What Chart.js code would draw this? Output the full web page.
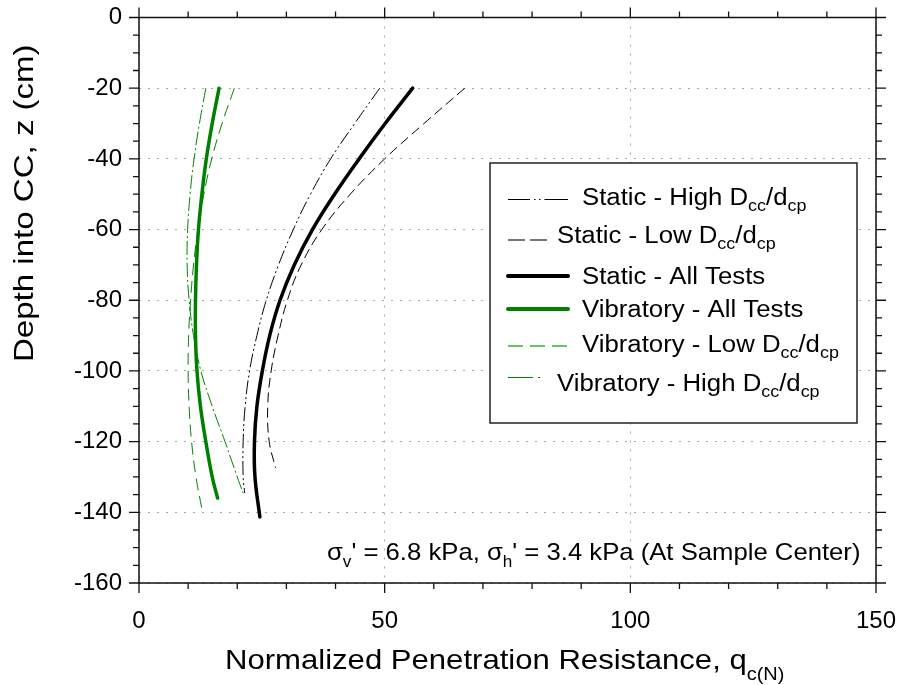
<!DOCTYPE html>
<html lang="en">
<head>
  <meta charset="UTF-8" />
  <title>Penetration Resistance vs Depth</title>
  <script src="https://cdn.jsdelivr.net/npm/chart.js"></script>
  <style>
    body {
      margin: 0;
      background: #fff;
    }
    #wrap {
      width: 901px;
      height: 685px;
    }
  </style>
</head>
<body>
  <div id="wrap"><canvas id="chart" width="901" height="685"></canvas></div>

  <script>
    const FONT = "'Liberation Sans', Arial, sans-serif";

    // depth (cm) and normalized resistance
    const staticHighDepth = [-20, -30, -40, -50, -60, -70, -80, -90, -100, -110, -120, -130, -134.5];
    const staticHighQ     = [49.0, 43.9, 39.0, 34.9, 31.4, 28.4, 25.9, 24.0, 22.5, 21.6, 21.2, 21.2, 21.5];

    const staticLowDepth = [-20, -30, -40, -50, -60, -70, -80, -90, -100, -110, -120, -127.4];
    const staticLowQ     = [66.3, 58.0, 50.0, 43.0, 37.2, 33.0, 30.2, 28.3, 26.9, 26.2, 26.5, 27.8];

    const staticAllDepth = [-20, -30, -40, -50, -60, -70, -80, -90, -100, -110, -120, -130, -141.3];
    const staticAllQ     = [55.7, 50.1, 44.8, 39.8, 35.3, 31.6, 28.7, 26.6, 25.1, 24.0, 23.5, 23.6, 24.6];

    const vibAllDepth = [-20, -30, -40, -50, -60, -70, -80, -90, -100, -110, -120, -130, -136];
    const vibAllQ     = [16.3, 14.9, 13.7, 12.8, 12.1, 11.7, 11.5, 11.5, 11.8, 12.5, 13.6, 14.9, 16.0];

    const vibLowDepth = [-20, -30, -40, -50, -60, -70, -80, -90, -100, -110, -120, -130, -139.8];
    const vibLowQ     = [19.4, 16.9, 14.8, 13.2, 12.0, 11.1, 10.5, 10.1, 10.0, 10.2, 10.7, 11.6, 12.9];

    const vibHighDepth = [-20, -30, -40, -50, -60, -70, -80, -90, -100, -110, -120, -130, -134.6];
    const vibHighQ     = [13.6, 12.3, 11.2, 10.4, 9.9, 9.8, 10.2, 11.1, 12.6, 14.9, 17.5, 20.0, 21.2];

    const xTicks = [0, 50, 100, 150];
    const yTicks = [0, -20, -40, -60, -80, -100, -120, -140, -160];

    // legend labels as runs of [text, isSubscript]
    const legendLabels = [
      [['Static - High D', 0], ['cc', 1], ['/d', 0], ['cp', 1]],
      [['Static - Low D', 0], ['cc', 1], ['/d', 0], ['cp', 1]],
      [['Static - All Tests', 0]],
      [['Vibratory - All Tests', 0]],
      [['Vibratory - Low D', 0], ['cc', 1], ['/d', 0], ['cp', 1]],
      [['Vibratory - High D', 0], ['cc', 1], ['/d', 0], ['cp', 1]]
    ];
    const xTitle = [['Normalized Penetration Resistance, q', 0], ['c(N)', 1]];
    const yTitle = [['Depth into CC, z (cm)', 0]];
    const note = [['σ', 0], ['v', 1], ["' = 6.8 kPa, σ", 0], ['h', 1], ["' = 3.4 kPa (At Sample Center)", 0]];

    const GREEN = '#008000';

    function pts(qs, ds) {
      return qs.map((q, i) => ({ x: q, y: ds[i] }));
    }

    function line(data, color, width, dash) {
      return {
        data: data,
        showLine: true,
        borderColor: color,
        borderWidth: width,
        borderDash: dash,
        borderCapStyle: width > 2 ? 'round' : 'butt',
        pointRadius: 0,
        tension: 0.4,
        fill: false
      };
    }

    const datasets = [
      line(pts(staticHighQ, staticHighDepth), '#000', 1, [14, 3, 2, 3, 2, 3]),
      line(pts(staticLowQ, staticLowDepth), '#000', 1, [10, 5]),
      line(pts(staticAllQ, staticAllDepth), '#000', 3.5, []),
      line(pts(vibAllQ, vibAllDepth), GREEN, 3.5, []),
      line(pts(vibLowQ, vibLowDepth), GREEN, 1, [12, 6]),
      line(pts(vibHighQ, vibHighDepth), GREEN, 1, [14, 3, 2, 3])
    ];

    // draw text runs with subscripts, stretched horizontally
    function drawRuns(ctx, x, y, runs, size, subSize, subDy, stretch, rot) {
      ctx.save();
      ctx.translate(x, y);
      if (rot) ctx.rotate(rot);
      ctx.scale(stretch, 1);
      ctx.fillStyle = '#000';
      ctx.textBaseline = 'alphabetic';
      ctx.textAlign = 'left';
      let cx = 0;
      runs.forEach(([t, sub]) => {
        ctx.font = (sub ? subSize : size) + 'px ' + FONT;
        ctx.fillText(t, cx, sub ? subDy : 0);
        cx += ctx.measureText(t).width;
      });
      ctx.restore();
    }

    const framePlugin = {
      id: 'frame',
      afterDraw(chart) {
        const ctx = chart.ctx;
        const a = chart.chartArea;
        const xs = chart.scales.x, ys = chart.scales.y;

        ctx.save();
        ctx.strokeStyle = '#111';
        ctx.lineWidth = 1.5;
        ctx.strokeRect(a.left, a.top, a.right - a.left, a.bottom - a.top);

        // outward ticks on all four sides
        ctx.lineWidth = 1.3;
        ctx.beginPath();
        for (let v = 0; v <= 150; v += 10) {
          const px = xs.getPixelForValue(v);
          const len = v % 50 === 0 ? 10 : 6;
          ctx.moveTo(px, a.bottom); ctx.lineTo(px, a.bottom + len);
          ctx.moveTo(px, a.top); ctx.lineTo(px, a.top - len);
        }
        for (let v = 0; v >= -160; v -= 5) {
          const py = ys.getPixelForValue(v);
          const len = v % 20 === 0 ? 10 : 6;
          ctx.moveTo(a.left, py); ctx.lineTo(a.left - len, py);
          ctx.moveTo(a.right, py); ctx.lineTo(a.right + len, py);
        }
        ctx.stroke();

        // legend box
        ctx.fillStyle = '#fff';
        ctx.fillRect(490, 163, 367, 260);
        ctx.strokeStyle = '#222';
        ctx.lineWidth = 1.5;
        ctx.strokeRect(490, 163, 367, 260);

        const samples = [
          { y: 199.5, x2: 568, color: '#000', w: 1, dash: [22, 4, 1.5, 3.5, 1.5, 4, 30] },
          { y: 240, x2: 547, color: '#777', w: 2, dash: [17, 5] },
          { y: 276, x2: 568, color: '#000', w: 4, dash: [] },
          { y: 309, x2: 568, color: GREEN, w: 4, dash: [] },
          { y: 346, x2: 568, color: '#6cbf6c', w: 2, dash: [15, 7] },
          { y: 377.5, x2: 543, color: GREEN, w: 1.2, dash: [25, 5, 2, 5] }
        ];
        const textPos = [[582, 205], [557, 243], [582, 284], [582, 317], [582, 352], [557, 391]];
        samples.forEach((s, i) => {
          ctx.save();
          ctx.strokeStyle = s.color;
          ctx.lineWidth = s.w;
          ctx.lineCap = s.w > 3 ? 'round' : 'butt';
          ctx.setLineDash(s.dash);
          ctx.beginPath();
          ctx.moveTo(508, s.y);
          ctx.lineTo(s.x2, s.y);
          ctx.stroke();
          ctx.restore();
          drawRuns(ctx, textPos[i][0], textPos[i][1], legendLabels[i], 23, 16, 6, 1.12);
        });

        // axis titles and note
        drawRuns(ctx, 225, 669, xTitle, 28, 18, 11, 1.11);
        drawRuns(ctx, 33, 362, yTitle, 28, 18, 8, 1.18, -Math.PI / 2);
        drawRuns(ctx, 327, 560, note, 24, 16, 7, 1.07);
        ctx.restore();
      }
    };

    const tickFont = { family: FONT, size: 24 };

    new Chart(document.getElementById('chart'), {
      type: 'scatter',
      data: { datasets: datasets },
      options: {
        responsive: false,
        animation: false,
        layout: { padding: { top: 17.5, right: 25, left: 0, bottom: 0 } },
        plugins: {
          legend: { display: false },
          tooltip: { enabled: false }
        },
        scales: {
          x: {
            type: 'linear',
            min: 0,
            max: 150,
            afterBuildTicks: s => { s.ticks = xTicks.map(v => ({ value: v })); },
            ticks: { font: tickFont, color: '#000', padding: 24, maxRotation: 0 },
            grid: { color: '#aaa', lineWidth: 1, drawTicks: false },
            border: { display: false, dash: [2, 7] },
            afterFit: s => {
              s.height = 102;
              s.paddingLeft = 0;
              s.paddingRight = 0;
            }
          },
          y: {
            type: 'linear',
            min: -160,
            max: 0,
            afterBuildTicks: s => { s.ticks = yTicks.map(v => ({ value: v })); },
            ticks: { font: tickFont, color: '#000', padding: 17 },
            grid: { color: '#aaa', lineWidth: 1, drawTicks: false },
            border: { display: false, dash: [2, 7] },
            afterFit: s => {
              s.width = 139;
              s.paddingTop = 0;
              s.paddingBottom = 0;
            }
          }
        }
      },
      plugins: [framePlugin]
    });
  </script>
</body>
</html>
